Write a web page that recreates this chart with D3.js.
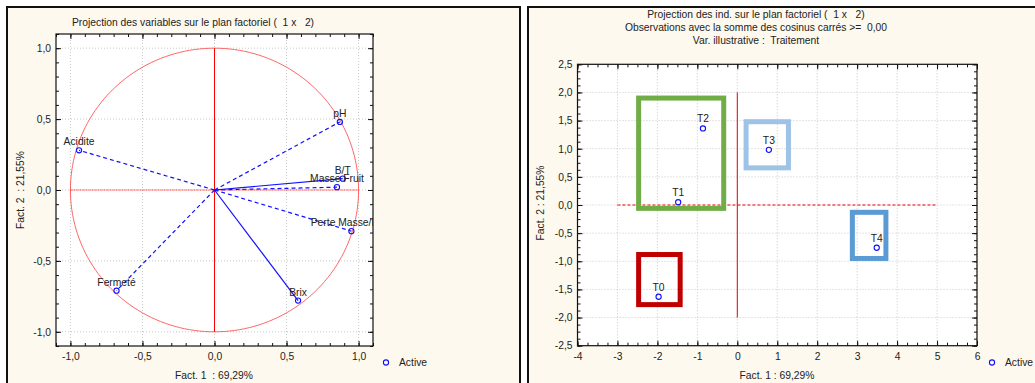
<!DOCTYPE html>
<html>
<head>
<meta charset="utf-8">
<script src="https://cdn.jsdelivr.net/npm/d3@7"></script>
<style>
  body { margin: 0; background: #fff; }
  text { font-family: "Liberation Sans", Arial, sans-serif; font-size: 10.3px; fill: #222; white-space: pre; }
</style>
</head>
<body>
<div id="chart"></div>
<script>
// variables (cercle des corrélations)
var varNames = ["Acidite", "Fermeté", "pH", "B/T", "Masse Fruit", "Perte Masse/Fruit", "Brix"];
var varF1 = [-0.94, -0.68, 0.87, 0.89, 0.85, 0.95, 0.58];
var varF2 = [0.28, -0.71, 0.48, 0.08, 0.02, -0.29, -0.78];
var varSolid = [false, false, false, true, false, false, true];

// individus
var indNames = ["T0", "T1", "T2", "T3", "T4"];
var indF1 = [-1.97, -1.48, -0.86, 0.79, 3.49];
var indF2 = [-1.63, 0.05, 1.36, 0.98, -0.76];

// encadrés (x0, x1, y0, y1 en unités factorielles)
var boxColors = ["#70ad47", "#c00000", "#9dc3e6", "#5b9bd5"];
var boxX0 = [-2.47, -2.47, 0.22, 2.88];
var boxX1 = [-0.34, -1.43, 1.28, 3.72];
var boxY0 = [-0.06, -1.77, 0.66, -0.95];
var boxY1 = [1.90, -0.88, 1.48, -0.13];

var leftTicks = [-1.0, -0.5, 0.0, 0.5, 1.0];
var rightXTicks = [-4, -3, -2, -1, 0, 1, 2, 3, 4, 5, 6];
var rightYTicks = [-2.5, -2.0, -1.5, -1.0, -0.5, 0.0, 0.5, 1.0, 1.5, 2.0, 2.5];

var fmt1 = d => d3.format(".1f")(d).replace(".", ",").replace("−", "-");
var fmt0 = d => d3.format("d")(d).replace("−", "-");

var svg = d3.select("#chart").append("svg")
    .attr("width", 1035).attr("height", 383);

// panels
svg.append("rect").attr("x", 7).attr("y", 7).attr("width", 513).attr("height", 390)
    .attr("fill", "#fef9ee").attr("stroke", "#111").attr("stroke-width", 2);
svg.append("rect").attr("x", 528).attr("y", 7).attr("width", 520).attr("height", 390)
    .attr("fill", "#fef9ee").attr("stroke", "#111").attr("stroke-width", 2);

function frame(g, x, y, xTicks, yTicks, xMinor, yMinor, xFmt, yFmt, clipId) {
    var x0 = x.range()[0], x1 = x.range()[1], y0 = y.range()[1], y1 = y.range()[0];
    g.append("rect").attr("x", x0).attr("y", y0).attr("width", x1 - x0).attr("height", y1 - y0)
        .attr("fill", "#fff");
    g.append("clipPath").attr("id", clipId).append("rect")
        .attr("x", x0).attr("y", y0).attr("width", x1 - x0).attr("height", y1 - y0);
    // grid
    g.append("g").selectAll("line").data(xTicks).join("line")
        .attr("x1", d => x(d)).attr("x2", d => x(d)).attr("y1", y0).attr("y2", y1)
        .attr("stroke", "#c8c8c8").attr("stroke-dasharray", "1,2");
    g.append("g").selectAll("line").data(yTicks).join("line")
        .attr("y1", d => y(d)).attr("y2", d => y(d)).attr("x1", x0).attr("x2", x1)
        .attr("stroke", "#c8c8c8").attr("stroke-dasharray", "1,2");
    // axes, ticks inward
    var axes = [
        [d3.axisBottom(x), "translate(0," + y1 + ")", xTicks, xMinor, xFmt, 7],
        [d3.axisTop(x), "translate(0," + y0 + ")", xTicks, xMinor, null, 0],
        [d3.axisLeft(y), "translate(" + x0 + ",0)", yTicks, yMinor, yFmt, 5],
        [d3.axisRight(y), "translate(" + x1 + ",0)", yTicks, yMinor, null, 0]
    ];
    axes.forEach(function (a) {
        var ax = g.append("g").attr("transform", a[1])
            .call(a[0].tickValues(a[3]).tickSize(-3).tickFormat(""));
        ax.select(".domain").remove();
        var am = g.append("g").attr("transform", a[1])
            .call(a[0].tickValues(a[2]).tickSize(-5).tickPadding(a[5])
                .tickFormat(a[4] ? a[4] : ""));
        am.select(".domain").remove();
        am.selectAll("text").attr("fill", "#222")
            .style("font-family", "Liberation Sans, Arial, sans-serif").style("font-size", "10.3px");
        g.selectAll(".tick line").attr("stroke", "#111");
    });
    g.append("rect").attr("x", x0).attr("y", y0).attr("width", x1 - x0).attr("height", y1 - y0)
        .attr("fill", "none").attr("stroke", "#111").attr("stroke-width", 1.2);
}

// ---------- left: variables ----------
var gl = svg.append("g");
var xl = d3.scaleLinear().domain([-1.1, 1.1]).range([56, 373]);
var yl = d3.scaleLinear().domain([-1.1, 1.1]).range([346, 34]);
frame(gl, xl, yl, leftTicks, leftTicks,
    d3.range(-11, 12).map(d => d / 10), d3.range(-11, 12).map(d => d / 10), fmt1, fmt1, "clipL");

var plotL = gl.append("g").attr("clip-path", "url(#clipL)");
var circ = d3.range(0, 361, 2).map(a => [Math.cos(a * Math.PI / 180), Math.sin(a * Math.PI / 180)]);
plotL.append("path").datum(circ)
    .attr("d", d3.line().x(d => xl(d[0])).y(d => yl(d[1])))
    .attr("fill", "none").attr("stroke", "#f55").attr("stroke-width", 0.9);
plotL.append("line").attr("x1", xl(-1)).attr("x2", xl(1)).attr("y1", yl(0)).attr("y2", yl(0))
    .attr("stroke", "#f00").attr("stroke-dasharray", "1,1");
plotL.append("line").attr("x1", xl(0)).attr("x2", xl(0)).attr("y1", yl(1)).attr("y2", yl(-1))
    .attr("stroke", "#f00").attr("stroke-width", 1);

plotL.selectAll(".vline").data(varNames).join("line")
    .attr("x1", xl(0)).attr("y1", yl(0))
    .attr("x2", (d, i) => xl(varF1[i])).attr("y2", (d, i) => yl(varF2[i]))
    .attr("stroke", "#1010ff").attr("stroke-width", 1.2)
    .attr("stroke-dasharray", (d, i) => varSolid[i] ? null : "4,3");
plotL.selectAll(".vpt").data(varNames).join("circle")
    .attr("cx", (d, i) => xl(varF1[i])).attr("cy", (d, i) => yl(varF2[i])).attr("r", 2.6)
    .attr("fill", "none").attr("stroke", "#1010ff").attr("stroke-width", 1.1);
plotL.selectAll(".vlab").data(varNames).join("text")
    .attr("x", (d, i) => xl(varF1[i])).attr("y", (d, i) => yl(varF2[i]) - 5)
    .attr("text-anchor", "middle").text(d => d);

gl.append("text").attr("x", 193).attr("y", 26).attr("text-anchor", "middle")
    .text("Projection des variables sur le plan factoriel (  1 x   2)");
gl.append("text").attr("x", 214).attr("y", 379).attr("text-anchor", "middle")
    .text("Fact. 1  : 69,29%");
gl.append("text").attr("transform", "translate(24,190) rotate(-90)").attr("text-anchor", "middle")
    .text("Fact. 2  : 21,55%");
gl.append("circle").attr("cx", 386).attr("cy", 362.5).attr("r", 2.6)
    .attr("fill", "none").attr("stroke", "#1010ff").attr("stroke-width", 1.1);
gl.append("text").attr("x", 399).attr("y", 366).text("Active");

// ---------- right: individus ----------
var gr = svg.append("g");
var xr = d3.scaleLinear().domain([-4, 6]).range([577.5, 977]);
var yr = d3.scaleLinear().domain([-2.5, 2.5]).range([345.7, 64.3]);
frame(gr, xr, yr, rightXTicks, rightYTicks,
    d3.range(-16, 25).map(d => d / 4), d3.range(-20, 21).map(d => d / 8), fmt0, fmt1, "clipR");

var plotR = gr.append("g").attr("clip-path", "url(#clipR)");
plotR.append("line").attr("x1", xr(-3)).attr("x2", xr(5)).attr("y1", yr(0)).attr("y2", yr(0))
    .attr("stroke", "#e00").attr("stroke-dasharray", "3,2");
plotR.append("line").attr("x1", xr(0)).attr("x2", xr(0)).attr("y1", yr(2)).attr("y2", yr(-2))
    .attr("stroke", "#e00");

plotR.selectAll(".box").data(boxColors).join("rect")
    .attr("x", (d, i) => xr(boxX0[i])).attr("y", (d, i) => yr(boxY1[i]))
    .attr("width", (d, i) => xr(boxX1[i]) - xr(boxX0[i]))
    .attr("height", (d, i) => yr(boxY0[i]) - yr(boxY1[i]))
    .attr("fill", "none").attr("stroke", d => d).attr("stroke-width", 5);

plotR.selectAll(".ipt").data(indNames).join("circle")
    .attr("cx", (d, i) => xr(indF1[i])).attr("cy", (d, i) => yr(indF2[i])).attr("r", 2.6)
    .attr("fill", "none").attr("stroke", "#1010ff").attr("stroke-width", 1.1);
plotR.selectAll(".ilab").data(indNames).join("text")
    .attr("x", (d, i) => xr(indF1[i])).attr("y", (d, i) => yr(indF2[i]) - 6)
    .attr("text-anchor", "middle").text(d => d);

gr.append("text").attr("x", 756).attr("y", 18).attr("text-anchor", "middle")
    .text("Projection des ind. sur le plan factoriel (  1 x   2)");
gr.append("text").attr("x", 756).attr("y", 31).attr("text-anchor", "middle")
    .text("Observations avec la somme des cosinus carrés >=  0,00");
gr.append("text").attr("x", 756).attr("y", 44).attr("text-anchor", "middle")
    .text("Var. illustrative :  Traitement");
gr.append("text").attr("x", 777).attr("y", 379).attr("text-anchor", "middle")
    .text("Fact. 1 : 69,29%");
gr.append("text").attr("transform", "translate(544,203) rotate(-90)").attr("text-anchor", "middle")
    .text("Fact. 2 : 21,55%");
gr.append("circle").attr("cx", 992).attr("cy", 362.5).attr("r", 2.6)
    .attr("fill", "none").attr("stroke", "#1010ff").attr("stroke-width", 1.1);
gr.append("text").attr("x", 1005).attr("y", 366).text("Active");
</script>
</body>
</html>
